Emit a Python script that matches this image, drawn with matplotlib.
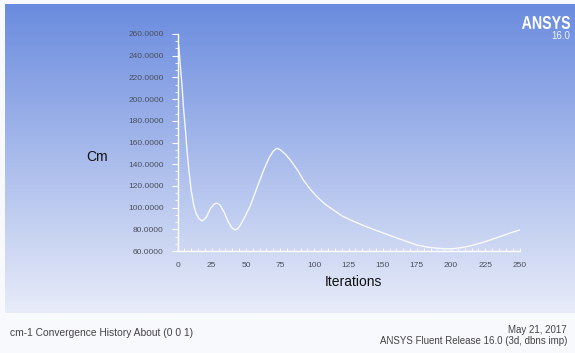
import matplotlib
matplotlib.use("Agg")
import matplotlib.pyplot as plt
import numpy as np
from matplotlib.ticker import MultipleLocator, AutoMinorLocator, FormatStrFormatter
from matplotlib.textpath import TextPath
from matplotlib.patches import PathPatch
from matplotlib.font_manager import FontProperties
from matplotlib.transforms import Affine2D

plt.rcParams['font.family'] = ['Liberation Sans', 'DejaVu Sans']

# cm-1 convergence history
iterations = [0, 1, 2, 3.4, 4.5, 5.8, 7, 8.3, 10, 11.9, 13.5, 15.6, 18, 21, 24, 27, 29, 31,
              34, 37, 40, 42, 44, 46, 49, 53, 58, 63, 67, 70, 72.5, 75, 79, 83, 88,
              92, 97, 102, 108, 114, 120, 126.5, 135, 143, 150, 158, 166, 175, 183,
              190, 196, 202, 208, 215, 225, 235, 243, 250]
cm = [256, 248, 232, 211, 190, 171.5, 152, 134.6, 116, 102, 95, 90, 87.6, 91, 99, 103.5, 104,
      102.5, 96, 87, 81, 79.4, 80.5, 84, 91, 101, 118, 134.6, 146, 152, 154.6, 153.5, 149, 143, 134,
      125.4, 117, 110, 103, 97.8, 92.5, 88.6, 84, 80, 76.8, 73, 69.5, 65.5, 63.5,
      62.5, 62, 62.2, 63.2, 65, 68.6, 73, 76.5, 79.4]

xticks = [0, 25, 50, 75, 100, 125, 150, 175, 200, 225, 250]
yticks = [60, 80, 100, 120, 140, 160, 180, 200, 220, 240, 260]

W, H = 575, 353
fig = plt.figure(figsize=(W / 100, H / 100), dpi=100)
fig.patch.set_facecolor('#f8f9fc')

# blue gradient panel behind the plot
bg = fig.add_axes([5 / W, 1 - 313 / H, 1 - 5 / W, (313 - 4) / H])
bg.set_axis_off()
top = np.array([106, 139, 222]) / 255
bottom = np.array([232, 236, 249]) / 255
t = np.linspace(0, 1, 256)[:, None]
grad = top[None, :] * (1 - t) + bottom[None, :] * t
bg.imshow(grad[:, None, :], aspect='auto', extent=[0, 1, 0, 1])
bg.set_xlim(0, 1)
bg.set_ylim(0, 1)

ax = fig.add_axes([177.5 / W, 1 - 251 / H, 342 / W, 217 / H])
ax.patch.set_alpha(0)
ax.plot(iterations, cm, color='white', alpha=0.9, lw=1.0)
ax.set_xlim(0, 250)
ax.set_ylim(60, 260)
ax.set_xticks(xticks)
ax.set_yticks(yticks)
ax.yaxis.set_major_formatter(FormatStrFormatter('%.4f'))
ax.xaxis.set_minor_locator(MultipleLocator(5))
ax.yaxis.set_minor_locator(AutoMinorLocator(3))
for side in ['top', 'right']:
    ax.spines[side].set_visible(False)
for side in ['left', 'bottom']:
    ax.spines[side].set_color('white')
    ax.spines[side].set_linewidth(1.0)
ax.tick_params(axis='y', which='major', direction='out', length=4, width=0.8,
               color='white', labelsize=6, labelcolor='#4a4f5c', pad=6)
ax.tick_params(axis='y', which='minor', direction='out', length=2, width=0.6, color='white')
ax.tick_params(axis='x', which='both', direction='in', length=2, width=0.6,
               color='white', labelsize=6, labelcolor='#4a4f5c', pad=8)

fig.text(97 / W, 1 - 157 / H, 'Cm', fontsize=10, color='#111111', ha='center', va='center')
fig.text(353 / W, 1 - 282 / H, 'Iterations', fontsize=10, color='#111111', ha='center', va='center')

# condensed "ANSYS" logo built from a squeezed text path
logo = TextPath((0, 0), 'ANSYS', size=1,
                prop=FontProperties(family='Liberation Sans', weight='bold'))
bb = logo.get_extents()
logo_tr = (Affine2D().translate(-bb.x1, -bb.y0)
           .scale(48 / bb.width / W, 13 / bb.height / H)
           .translate(570 / W, 1 - 29 / H) + fig.transFigure)
fig.add_artist(PathPatch(logo, transform=logo_tr, facecolor='white', edgecolor='none'))
fig.text(570 / W, 1 - 36 / H, '16.0', fontsize=7, color='#eef2ff', ha='right', va='center')

fig.text(10 / W, 1 - 333 / H, 'cm-1 Convergence History About (0 0 1)', fontsize=7.4,
         color='#444444', ha='left', va='center')
fig.text(567 / W, 1 - 330 / H, 'May 21, 2017', fontsize=7, color='#444444',
         ha='right', va='center')
fig.text(567 / W, 1 - 341 / H, 'ANSYS Fluent Release 16.0 (3d, dbns imp)', fontsize=7,
         color='#444444', ha='right', va='center')

fig.savefig('out.png', dpi=100, facecolor=fig.get_facecolor())
